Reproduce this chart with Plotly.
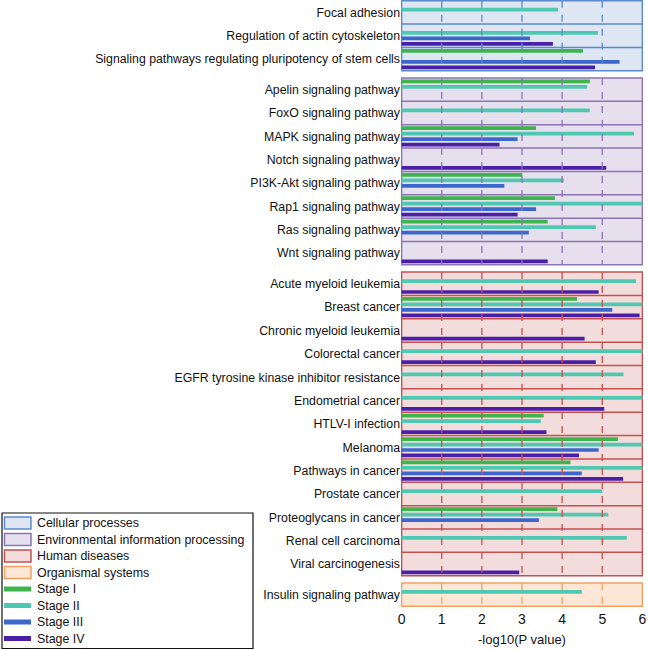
import plotly.graph_objects as go

# ---------------- data ----------------
pathways = [
    "Focal adhesion",
    "Regulation of actin cytoskeleton",
    "Signaling pathways regulating pluripotency of stem cells",
    "Apelin signaling pathway",
    "FoxO signaling pathway",
    "MAPK signaling pathway",
    "Notch signaling pathway",
    "PI3K-Akt signaling pathway",
    "Rap1 signaling pathway",
    "Ras signaling pathway",
    "Wnt signaling pathway",
    "Acute myeloid leukemia",
    "Breast cancer",
    "Chronic myeloid leukemia",
    "Colorectal cancer",
    "EGFR tyrosine kinase inhibitor resistance",
    "Endometrial cancer",
    "HTLV-I infection",
    "Melanoma",
    "Pathways in cancer",
    "Prostate cancer",
    "Proteoglycans in cancer",
    "Renal cell carcinoma",
    "Viral carcinogenesis",
    "Insulin signaling pathway",
]
pathway_groups = (["Cellular processes"] * 3
                  + ["Environmental information processing"] * 8
                  + ["Human diseases"] * 13
                  + ["Organismal systems"] * 1)
group_names = ["Cellular processes", "Environmental information processing",
               "Human diseases", "Organismal systems"]
stage_names = ["Stage I", "Stage II", "Stage III", "Stage IV"]

stage1 = [None, None, 4.52, 4.69, None, 3.35, None, 3.01, 3.82, 3.64, None,
          None, 4.37, None, None, None, None, 3.54, 5.39, 4.21, None, 3.88, None, None,
          None]
stage2 = [3.90, 4.89, None, 4.62, 4.69, 5.79, None, 4.04, 6.00, 4.84, None,
          5.84, 6.00, None, 6.00, 5.53, 6.00, 3.47, 6.00, 6.00, 5.00, 5.15, 5.61, None,
          4.49]
stage3 = [None, 3.20, 5.43, None, None, 2.89, None, 2.56, 3.35, 3.17, None,
          None, 5.25, None, None, None, None, None, 4.91, 4.49, None, 3.42, None, None,
          None]
stage4 = [None, 3.77, 4.82, None, None, 2.44, 5.10, None, 2.89, None, 3.64,
          4.91, 5.93, 4.56, 4.84, None, 5.05, 3.61, 4.42, 5.52, None, None, None, 2.93,
          None]
x_ticks = [0, 1, 2, 3, 4, 5, 6]

# ---------------- styles ----------------
stage_colors = ["#3db54c", "#4fc8b2", "#3b66cc", "#4a1fa8"]
group_fill = {"Cellular processes": "#dde6f2",
              "Environmental information processing": "#e6e0ee",
              "Human diseases": "#f3dcdc",
              "Organismal systems": "#fde8d8"}
group_line = {"Cellular processes": "#5b8bcb",
              "Environmental information processing": "#8c73b3",
              "Human diseases": "#c4514f",
              "Organismal systems": "#f3a062"}
FONT = "Liberation Sans, Arial, sans-serif"

ROW = 1.0
GAP = 0.31
SLOT = 0.235
BAR_W = 0.16

# row layout (positions in row units, axis reversed)
tops = []
pos = 0.0
prev = None
for g in pathway_groups:
    if prev is not None and g != prev:
        pos += GAP
    tops.append(pos)
    pos += ROW
    prev = g
total = pos
centers = [t + ROW / 2 for t in tops]

fig = go.Figure()

stage_values = [stage1, stage2, stage3, stage4]
for k, (name, vals) in enumerate(zip(stage_names, stage_values)):
    fig.add_trace(go.Bar(
        x=vals,
        y=[c + (k - 1.5) * SLOT for c in centers],
        orientation="h",
        width=BAR_W,
        marker=dict(color=stage_colors[k], line=dict(width=0)),
        name=name,
        showlegend=False,
        hovertemplate=name + ": %{x}<extra></extra>",
    ))

shapes = []
x0, x1 = x_ticks[0], x_ticks[-1]
for g in group_names:
    idx = [i for i, pg in enumerate(pathway_groups) if pg == g]
    gtop = tops[idx[0]]
    gbot = tops[idx[-1]] + ROW
    shapes.append(dict(type="rect", xref="x", yref="y", x0=x0, x1=x1, y0=gtop, y1=gbot,
                       fillcolor=group_fill[g], line=dict(color=group_line[g], width=1.5),
                       layer="below"))
    for i in idx[1:]:
        shapes.append(dict(type="line", xref="x", yref="y", x0=x0, x1=x1,
                           y0=tops[i], y1=tops[i],
                           line=dict(color=group_line[g], width=1.5), layer="below"))
    for xv in x_ticks[1:-1]:
        shapes.append(dict(type="line", xref="x", yref="y", x0=xv, x1=xv,
                           y0=gtop, y1=gbot,
                           line=dict(color=group_line[g], width=1.3, dash="7px,7px"),
                           layer="above"))

# ---------------- manual legend (pixel geometry) ----------------
W, H = 648, 650
ML, MR, MT, MB = 401, 5, 0, 43
PW = W - ML - MR
PH = H - MT - MB


def px(xpix):
    return (xpix - ML) / PW


def py(ypix):
    return (H - MB - ypix) / PH


annotations = []
shapes.append(dict(type="rect", xref="paper", yref="paper",
                   x0=px(2), x1=px(253), y0=py(513), y1=py(648.5),
                   fillcolor="white", line=dict(color="#111111", width=1.2), layer="above"))
legend_items = group_names + stage_names
for i, label in enumerate(legend_items):
    cy = 523 + i * 16.5
    if i < 4:
        shapes.append(dict(type="rect", xref="paper", yref="paper",
                           x0=px(4.5), x1=px(31), y0=py(cy - 6), y1=py(cy + 6),
                           fillcolor=group_fill[label],
                           line=dict(color=group_line[label], width=1.5), layer="above"))
    else:
        shapes.append(dict(type="line", xref="paper", yref="paper",
                           x0=px(4), x1=px(31), y0=py(cy), y1=py(cy),
                           line=dict(color=stage_colors[i - 4], width=5), layer="above"))
    annotations.append(dict(xref="paper", yref="paper", x=px(35), y=py(cy),
                            text=label, showarrow=False, xanchor="left", yanchor="middle",
                            font=dict(family=FONT, size=12.4, color="#111111")))

fig.update_layout(
    width=W, height=H,
    margin=dict(l=ML, r=MR, t=MT, b=MB),
    paper_bgcolor="white", plot_bgcolor="white",
    barmode="overlay",
    shapes=shapes,
    annotations=annotations,
    showlegend=False,
    font=dict(family=FONT, color="#111111"),
    xaxis=dict(range=[x0 - 0.015, x1 + 0.015], tickvals=x_ticks,
               ticktext=[str(v) for v in x_ticks],
               showgrid=False, zeroline=False, showline=False, ticks="",
               automargin=False, ticklabelstandoff=2,
               tickfont=dict(family=FONT, size=14, color="#111111"),
               title=dict(text="-log10(P value)", standoff=8,
                          font=dict(family=FONT, size=13, color="#111111"))),
    yaxis=dict(range=[total + 0.03, -0.03], tickvals=centers, ticktext=pathways,
               showgrid=False, zeroline=False, showline=False, ticks="",
               automargin=False,
               tickfont=dict(family=FONT, size=12.3, color="#111111")),
)

fig.write_html(
    "out.html",
    config={"displayModeBar": False},
    post_script="document.body.style.margin='0';document.body.style.padding='0';"
                "document.body.style.overflow='hidden';",
)
